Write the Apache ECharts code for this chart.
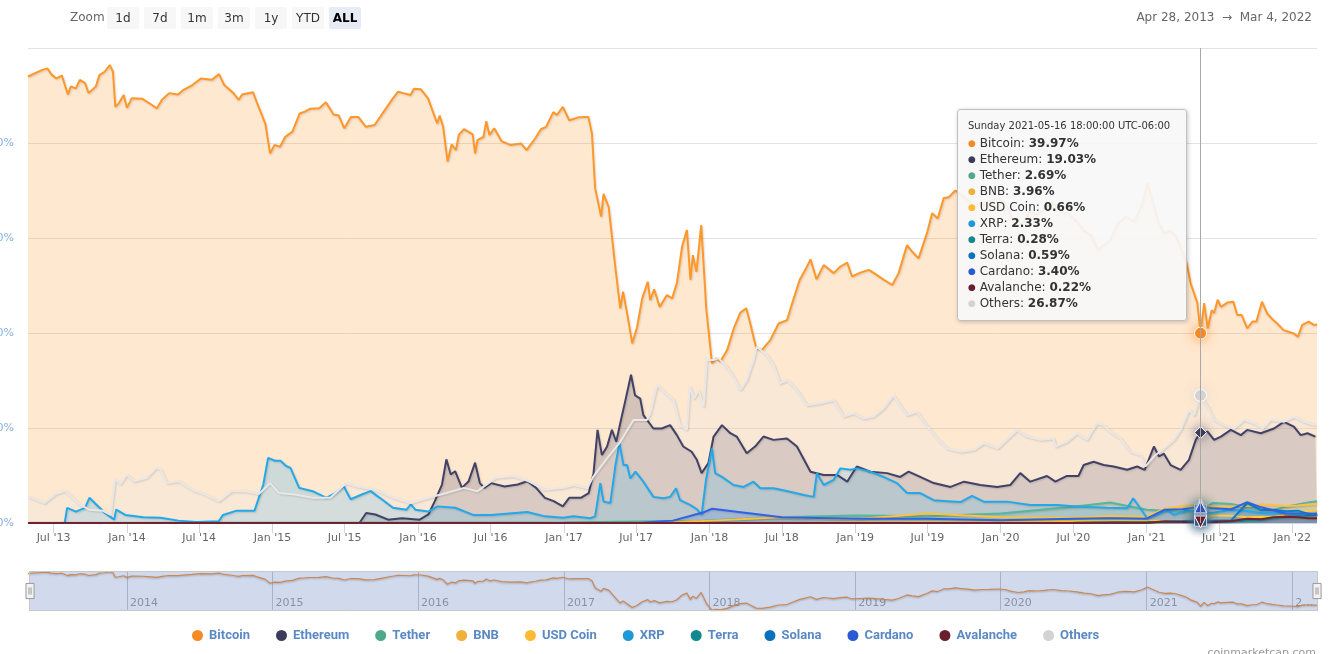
<!DOCTYPE html>
<html><head><meta charset="utf-8">
<script src="https://cdn.jsdelivr.net/npm/echarts@6/dist/echarts.min.js"></script>
<style>
html,body{margin:0;padding:0;background:#fff;}
#wrap{position:relative;width:1332px;height:654px;overflow:hidden;font-family:"DejaVu Sans",sans-serif;}
#chart{position:absolute;left:0;top:0;width:1332px;height:654px;}
.zoomlbl{position:absolute;left:70px;top:10px;font-size:12px;color:#666;z-index:5;}
.btn{position:absolute;top:7px;width:32px;height:22px;line-height:22px;text-align:center;font-size:12px;color:#333;background:#f7f7f7;border-radius:2px;z-index:5;}
.btn.sel{background:#e6ebf5;font-weight:bold;color:#000;}
#range{position:absolute;right:20px;top:10px;font-size:12px;color:#666;z-index:5;white-space:pre;}
#wm{position:absolute;right:16px;top:646px;font-size:11px;color:#999;z-index:5;}
</style></head>
<body>
<div id="wrap">
<div id="chart"></div>
<div class="zoomlbl">Zoom</div>
<div class="btn" style="left:107px">1d</div>
<div class="btn" style="left:144px">7d</div>
<div class="btn" style="left:181px">1m</div>
<div class="btn" style="left:218px">3m</div>
<div class="btn" style="left:255px">1y</div>
<div class="btn" style="left:292px">YTD</div>
<div class="btn sel" style="left:329px">ALL</div>
<div id="range">Apr 28, 2013  →  Mar 4, 2022</div>
<div id="wm">coinmarketcap.com</div>
</div>
<script>
// ---------------- DATA ----------------
const rangeStart = '2013-04-28';
const rangeEnd = '2022-03-04';
const tooltipDate = '2021-05-16';
const tooltipTitle = 'Sunday 2021-05-16 18:00:00 UTC-06:00';

const xTickDates = ['2013-07-01','2014-01-01','2014-07-01','2015-01-01','2015-07-01','2016-01-01','2016-07-01','2017-01-01','2017-07-01','2018-01-01','2018-07-01','2019-01-01','2019-07-01','2020-01-01','2020-07-01','2021-01-01','2021-07-01','2022-01-01'];
const xTickLabels = ["Jul '13","Jan '14","Jul '14","Jan '15","Jul '15","Jan '16","Jul '16","Jan '17","Jul '17","Jan '18","Jul '18","Jan '19","Jul '19","Jan '20","Jul '20","Jan '21","Jul '21","Jan '22"];
const navYearDates = ['2014-01-01','2015-01-01','2016-01-01','2017-01-01','2018-01-01','2019-01-01','2020-01-01','2021-01-01','2022-01-01'];
const navYearLabels = ['2014','2015','2016','2017','2018','2019','2020','2021','2…'];

const btcDates = ['2013-04-28','2013-06-03','2013-06-16','2013-06-25','2013-07-08','2013-07-22','2013-08-06','2013-08-13','2013-08-26','2013-09-05','2013-09-18','2013-09-27','2013-10-15','2013-10-24','2013-11-06','2013-11-19','2013-11-27','2013-12-03','2013-12-12','2013-12-24',
'2014-01-01','2014-01-13','2014-02-09','2014-03-03','2014-03-17','2014-03-30','2014-04-17','2014-05-09','2014-05-23','2014-06-14','2014-07-06','2014-08-02','2014-08-20','2014-09-02','2014-09-25','2014-10-08','2014-10-17','2014-11-13','2014-11-22','2014-12-14','2014-12-26',
'2015-01-06','2015-01-20','2015-02-02','2015-02-20','2015-03-10','2015-03-23','2015-04-05','2015-04-28','2015-05-15','2015-06-03','2015-06-16','2015-06-30','2015-07-17','2015-08-04','2015-08-23','2015-09-14','2015-10-07','2015-10-29','2015-11-12','2015-11-25','2015-12-13','2015-12-22',
'2016-01-08','2016-01-26','2016-02-18','2016-02-24','2016-03-04','2016-03-15','2016-03-25','2016-04-05','2016-04-12','2016-04-25','2016-05-17','2016-05-23','2016-05-29','2016-06-13','2016-06-20','2016-06-28','2016-07-10','2016-07-28','2016-08-19','2016-09-15','2016-09-29','2016-10-21','2016-11-04','2016-11-17','2016-12-05','2016-12-14','2016-12-29',
'2017-01-14','2017-02-06','2017-03-03','2017-03-12','2017-03-20','2017-04-04','2017-04-10','2017-04-23','2017-05-10','2017-05-22','2017-05-29','2017-06-10','2017-06-21','2017-07-03','2017-07-16','2017-07-30','2017-08-05','2017-08-15','2017-08-29','2017-09-16','2017-09-29','2017-10-11','2017-10-24','2017-11-05','2017-11-14','2017-11-20','2017-11-29','2017-12-11','2017-12-24',
'2018-01-07','2018-01-18','2018-01-28','2018-02-14','2018-03-04','2018-03-19','2018-04-03','2018-04-13','2018-04-28','2018-05-12','2018-06-02','2018-06-23','2018-07-14','2018-07-31','2018-08-15','2018-08-29','2018-09-11','2018-09-26','2018-10-14','2018-11-08','2018-11-25','2018-12-12','2018-12-24',
'2019-01-14','2019-02-04','2019-02-21','2019-03-14','2019-04-04','2019-04-20','2019-05-11','2019-05-24','2019-06-09','2019-07-01','2019-07-13','2019-07-27','2019-08-11','2019-08-24','2019-09-09','2019-09-25','2019-10-10','2019-10-28','2019-11-15','2019-12-05','2019-12-25',
'2020-01-12','2020-01-28','2020-02-14','2020-02-28','2020-03-13','2020-04-01','2020-04-20','2020-05-10','2020-06-01','2020-06-20','2020-07-10','2020-07-28','2020-08-15','2020-09-01','2020-09-15','2020-10-01','2020-10-20','2020-11-10','2020-12-01','2020-12-20',
'2021-01-03','2021-01-15','2021-02-01','2021-02-15','2021-03-01','2021-03-15','2021-04-01','2021-04-11','2021-04-21','2021-05-08','2021-05-16','2021-05-25','2021-06-03','2021-06-13','2021-06-19','2021-06-28','2021-07-06','2021-07-22','2021-08-06','2021-08-16','2021-08-27','2021-09-10','2021-09-23','2021-10-03','2021-10-17','2021-10-30','2021-11-11','2021-11-24','2021-12-10',
'2022-01-05','2022-01-15','2022-01-26','2022-02-11','2022-02-24','2022-03-04'];
const btcValues = [94.0,95.4,95.7,94.5,93.6,94.2,90.2,91.9,91.5,93.3,92.6,90.5,91.9,94.3,95.0,96.4,95.0,87.6,88.4,90.1,
87.4,89.4,89.3,88.1,87.3,89.1,90.5,90.2,91.2,92.2,93.6,93.3,94.5,92.2,90.5,89.1,90.2,90.7,88.7,84.1,77.8,
79.6,79.2,81.3,82.4,86.2,86.6,87.2,87.3,88.6,86.0,85.8,83.1,85.5,85.5,83.4,83.8,86.6,89.3,90.8,90.5,90.1,91.4,
91.3,89.4,84.1,85.8,83.4,76.1,79.7,78.5,81.7,82.9,81.8,77.8,80.6,81.3,84.6,81.7,83.1,80.4,79.6,79.9,78.5,81.0,82.9,83.4,86.5,85.9,87.6,
84.8,85.4,85.5,82.0,70.5,64.5,69.3,66.5,53.6,45.2,48.7,43.3,37.8,41.2,47.3,50.8,46.9,49.2,45.5,48.0,47.3,50.5,58.2,61.7,51.2,56.4,52.9,62.7,44.8,
33.6,34.7,34.0,36.4,41.3,44.3,45.2,42.0,36.8,36.4,38.5,42.0,42.7,47.3,51.2,53.3,55.5,51.3,54.3,52.6,54.0,54.8,51.9,
52.7,53.3,52.4,51.2,50.1,52.6,58.5,57.1,55.7,61.3,65.2,64.1,68.4,68.6,70.0,69.0,68.0,66.5,67.5,67.8,68.3,
67.5,64.5,62.5,63.5,65.5,65.0,66.0,67.5,65.5,65.0,63.5,61.5,60.5,57.5,58.5,59.5,63.0,64.5,63.5,67.0,
71.5,68.0,63.0,61.0,61.5,60.5,57.0,54.7,50.5,46.3,39.97,46.3,41.0,44.8,44.2,47.0,45.5,46.4,46.6,43.8,43.8,41.0,42.4,42.4,46.6,44.1,43.0,42.0,40.6,
39.9,39.2,41.7,42.4,41.7,41.8];

const ethDates = ['2015-08-07','2015-08-24','2015-09-16','2015-10-18','2015-11-22','2016-01-05','2016-01-27','2016-02-12','2016-03-01','2016-03-12','2016-03-23','2016-04-03','2016-04-20','2016-05-07','2016-05-23','2016-06-04','2016-06-15','2016-07-02','2016-08-05','2016-09-07','2016-10-01','2016-10-23','2016-11-14','2016-12-06','2016-12-29',
'2017-01-14','2017-02-12','2017-03-04','2017-03-16','2017-03-26','2017-04-06','2017-04-19','2017-05-01','2017-05-12','2017-05-22','2017-06-03','2017-06-18','2017-06-28','2017-07-11','2017-07-19','2017-08-13','2017-09-03','2017-09-24','2017-10-11','2017-10-27','2017-11-17','2017-11-30','2017-12-12','2017-12-29',
'2018-01-11','2018-02-01','2018-02-22','2018-03-10','2018-04-04','2018-04-25','2018-05-16','2018-06-10','2018-07-14','2018-08-08','2018-09-11','2018-10-14','2018-11-17','2018-12-12',
'2019-01-05','2019-02-08','2019-03-22','2019-04-24','2019-05-15','2019-06-13','2019-07-17','2019-08-28','2019-10-01','2019-11-11','2019-12-23',
'2020-01-25','2020-02-19','2020-03-15','2020-04-26','2020-05-17','2020-06-15','2020-07-14','2020-07-27','2020-08-21','2020-09-15','2020-10-10','2020-11-13','2020-12-08','2020-12-27',
'2021-01-19','2021-02-01','2021-02-13','2021-03-02','2021-03-27','2021-04-17','2021-05-04','2021-05-16','2021-06-03','2021-06-19','2021-07-06','2021-07-31','2021-08-25','2021-09-10','2021-10-14','2021-11-16','2021-12-11',
'2022-01-05','2022-01-22','2022-02-08','2022-02-28','2022-03-04'];
const ethValues = [0,2.1,1.8,0.7,1.0,0.7,1.8,4.6,8.1,13.4,10.2,10.9,7.4,8.8,12.7,8.4,7.4,8.4,7.7,8.1,8.8,7.4,5.3,4.6,3.5,
5.3,5.3,6.3,10.5,19.6,14.3,16.1,19.6,17.1,21.0,25.5,31.2,26.9,26.2,22.7,19.9,19.9,20.6,18.5,16.1,15.0,13.3,10.5,12.6,
18.2,20.6,18.9,18.2,14.7,16.1,18.2,17.5,17.8,16.1,10.8,10.1,10.1,8.7,
11.9,10.8,10.5,9.7,10.8,9.7,8.4,7.6,8.7,8.0,7.6,
8.0,10.5,8.7,9.9,8.7,9.9,9.9,12.2,12.9,12.2,11.9,11.2,11.9,11.2,
16.1,14.0,14.6,12.2,11.2,13.3,17.5,19.03,19.2,17.5,18.2,19.6,18.5,19.6,18.9,19.9,21.3,
20.3,18.5,18.9,18.2,18.2];

const othersDates = ['2013-04-28','2013-06-08','2013-07-06','2013-07-31','2013-08-31','2013-09-28','2013-11-01','2013-11-21','2013-12-02','2013-12-16',
'2014-01-01','2014-01-19','2014-02-20','2014-03-15','2014-03-26','2014-04-12','2014-05-10','2014-06-13','2014-07-16','2014-08-19','2014-09-21','2014-10-25','2014-11-28','2014-12-26',
'2015-01-18','2015-02-26','2015-04-12','2015-05-26','2015-07-05','2015-08-01','2015-09-16','2015-10-31','2015-12-14',
'2016-01-27','2016-03-12','2016-04-25','2016-05-29','2016-07-14','2016-08-28','2016-10-01','2016-11-14','2016-12-29',
'2017-01-25','2017-02-28','2017-03-15','2017-04-19','2017-05-22','2017-06-24','2017-07-28','2017-08-05','2017-08-22','2017-09-12','2017-10-03','2017-10-19','2017-11-05','2017-11-12','2017-11-23','2017-12-04','2017-12-17','2017-12-25',
'2018-01-11','2018-01-23','2018-02-13','2018-03-02','2018-03-19','2018-04-04','2018-04-21','2018-04-29','2018-05-24','2018-06-10','2018-06-27','2018-07-14','2018-08-08','2018-09-02','2018-10-05','2018-11-08','2018-12-03','2018-12-28',
'2019-01-22','2019-02-16','2019-03-13','2019-04-07','2019-05-11','2019-06-05','2019-07-01','2019-07-26','2019-08-20','2019-09-22','2019-10-26','2019-11-20','2019-12-24',
'2020-02-11','2020-03-07','2020-04-09','2020-05-13','2020-05-17','2020-06-15','2020-07-10','2020-08-04','2020-08-29','2020-09-15','2020-10-02','2020-10-27','2020-11-21','2020-12-16','2020-12-29',
'2021-01-19','2021-02-13','2021-03-10','2021-03-27','2021-04-17','2021-04-30','2021-05-16','2021-06-03','2021-06-19','2021-07-14','2021-08-08','2021-09-02','2021-09-27','2021-10-18','2021-11-08','2021-12-11',
'2022-01-05','2022-01-30','2022-02-28','2022-03-04'];
const othersValues = [5.6,4.2,6.1,6.8,4.2,2.8,2.6,1.7,9.2,8.2,
10.2,8.8,9.5,11.6,11.3,8.4,8.8,7.0,6.0,4.6,6.7,6.7,6.1,8.4,
6.3,6.0,5.3,5.3,8.4,7.7,7.0,5.3,4.2,
5.3,6.3,7.4,6.7,9.5,9.9,8.9,7.0,7.4,
8.0,7.3,9.7,13.6,17.1,21.7,21.7,23.1,29.1,27.3,25.9,20.6,19.6,28.7,26.2,28.0,24.5,34.3,
34.3,34.7,32.9,30.8,28.0,30.1,34.3,37.1,35.4,33.3,29.4,30.1,28.0,24.8,25.2,25.9,22.4,23.1,
22.0,22.4,24.1,26.9,22.7,23.4,20.3,17.8,15.7,15.0,15.4,16.8,15.7,
19.6,18.2,17.5,17.8,16.1,17.1,18.9,17.5,21.0,20.6,19.2,17.8,15.0,14.3,11.9,
14.0,15.7,17.5,19.6,23.8,22.7,26.87,24.5,21.7,20.6,19.9,21.7,21.0,19.9,21.7,21.3,
22.4,21.3,20.6,20.6];

const xrpDates = ['2013-07-29','2013-08-04','2013-08-26','2013-09-18','2013-09-29','2013-10-16','2013-11-07','2013-11-30','2013-12-05','2013-12-28',
'2014-02-11','2014-03-26','2014-05-10','2014-06-24','2014-08-19','2014-08-30','2014-10-03','2014-11-17','2014-12-09','2014-12-21',
'2015-01-07','2015-01-21','2015-02-04','2015-02-15','2015-03-09','2015-04-12','2015-05-16','2015-06-07','2015-06-29','2015-07-16','2015-08-13','2015-09-04','2015-09-27','2015-10-30','2015-12-03','2015-12-14','2015-12-25',
'2016-01-27','2016-02-19','2016-04-03','2016-05-18','2016-07-02','2016-10-01','2016-11-14','2016-12-29',
'2017-01-25','2017-03-08','2017-03-20','2017-04-02','2017-04-10','2017-04-27','2017-05-10','2017-05-20','2017-05-30','2017-06-08','2017-06-16','2017-06-29','2017-07-19','2017-08-13','2017-09-07','2017-09-24','2017-10-09','2017-10-19','2017-11-13','2017-11-30','2017-12-12','2017-12-23',
'2018-01-07','2018-01-15','2018-02-01','2018-03-02','2018-03-27','2018-04-21','2018-05-08','2018-06-10','2018-07-05','2018-08-04','2018-08-25','2018-09-19','2018-09-27','2018-10-14','2018-11-08','2018-11-25','2018-12-20',
'2019-01-05','2019-02-08','2019-03-13','2019-04-16','2019-05-11','2019-06-13','2019-07-17','2019-08-20','2019-09-22','2019-10-21','2019-11-19',
'2020-01-17','2020-03-15','2020-05-21','2020-07-18','2020-09-23','2020-11-13','2020-11-28','2020-12-16',
'2021-01-02','2021-01-27','2021-02-21','2021-03-10','2021-04-13','2021-05-16','2021-06-13','2021-07-25','2021-08-27','2021-10-16','2021-12-05',
'2022-01-24','2022-03-04'];
const xrpValues = [0,3.2,2.4,3.2,5.3,3.9,2.1,0.7,2.8,1.7,
1.2,1.1,0.5,0.2,0.35,1.7,2.6,2.6,8.1,13.7,
13.1,13.1,12.0,11.6,7.4,6.7,5.3,6.3,7.7,5.0,6.0,6.7,5.3,3.2,2.8,3.9,2.8,
2.4,3.5,3.2,1.7,1.7,2.3,1.4,1.1,
1.4,1.0,1.4,8.4,4.5,4.2,12.2,16.8,12.2,12.2,9.4,10.8,8.7,5.5,5.2,5.5,7.3,4.8,3.8,2.9,1.7,9.1,
15.7,10.5,9.7,8.0,7.6,8.7,7.3,7.3,6.9,6.3,5.9,5.5,10.5,8.0,9.1,11.5,11.2,
11.5,10.8,9.7,8.4,6.3,6.3,4.8,4.6,4.4,5.7,4.5,
4.5,3.8,3.8,3.4,3.2,3.1,5.2,3.1,
1.0,1.7,2.7,1.7,2.7,2.33,2.1,2.7,2.7,2.1,2.0,
2.0,1.7];

const minorDates = ['2013-04-28','2015-01-01','2017-01-01','2017-07-01','2017-10-01','2017-12-15','2018-01-07','2018-07-01','2019-01-01','2019-07-01','2020-01-01','2020-07-01','2020-10-01','2021-01-01','2021-02-15','2021-04-01','2021-05-16','2021-06-15','2021-08-01','2021-09-10','2021-10-15','2021-11-15','2021-12-15','2022-01-15','2022-02-10','2022-03-04'];
const tetherValues    = [0,0.05,0.1,0.3,0.4,0.5,0.6,1.2,1.6,1.4,2.0,3.4,4.3,2.8,2.6,2.3,2.69,4.2,4.0,3.3,2.8,2.8,3.4,3.9,4.3,4.6];
const bnbValues       = [0,0,0,0.05,0.2,0.4,0.5,1.2,0.8,2.0,1.2,1.1,1.5,1.3,3.0,3.6,3.96,3.4,3.5,3.6,3.9,3.8,3.6,3.7,3.9,4.0];
const usdcValues      = [0,0,0,0,0,0,0,0,0.1,0.15,0.2,0.4,0.7,0.5,0.5,0.5,0.66,1.6,1.5,1.2,1.3,1.2,1.8,2.3,2.5,2.7];
const terraValues     = [0,0,0,0,0,0,0,0,0,0,0,0.05,0.1,0.1,0.25,0.3,0.28,0.2,0.3,0.5,0.6,1.0,1.3,1.5,1.5,1.9];
const solanaValues    = [0,0,0,0,0,0,0,0,0,0,0,0.01,0.05,0.1,0.3,0.4,0.59,0.5,0.6,4.2,2.7,2.8,2.5,2.6,1.9,2.0];
const cardanoValues   = [0,0,0,0,0.5,2.2,3.0,1.2,0.9,0.9,0.6,0.9,1.0,0.9,2.8,2.9,3.40,3.1,2.9,4.4,3.3,2.7,2.0,2.0,2.0,1.8];
const avalancheValues = [0,0,0,0,0,0,0,0,0,0,0,0,0.05,0.05,0.3,0.2,0.22,0.2,0.4,0.9,0.8,1.2,1.3,1.2,1.0,1.0];

const seriesNames  = ['Bitcoin','Ethereum','Tether','BNB','USD Coin','XRP','Terra','Solana','Cardano','Avalanche','Others'];
const seriesColors = ['#f58a26','#3c3c5d','#4ea88c','#f0b13a','#fdbb35','#1f9ad6','#12898f','#0a72bd','#2a5ad3','#6a1f2e','#d3d3d3'];
const seriesDates  = [btcDates, ethDates, minorDates, minorDates, minorDates, xrpDates, minorDates, minorDates, minorDates, minorDates, othersDates];
const seriesValues = [btcValues, ethValues, tetherValues, bnbValues, usdcValues, xrpValues, terraValues, solanaValues, cardanoValues, avalancheValues, othersValues];

// ---------------- CHART ----------------
function ts(s){const p=s.split('-').map(Number);return Date.UTC(p[0],p[1]-1,p[2]);}
function pairs(d,v){return d.map((x,i)=>[ts(x),v[i]]);}
function alpha(hex,a){const n=parseInt(hex.slice(1),16);return 'rgba('+(n>>16)+','+((n>>8)&255)+','+(n&255)+','+a+')';}
const triDown = 'path://M0,0 L10,0 L5,10 Z';
const symbolCycle = ['circle','diamond','rect','triangle',triDown];
const xTickTs = xTickDates.map(ts);
const navTs = navYearDates.map(ts);
const DAY = 86400000;

const chart = echarts.init(document.getElementById('chart'), null, {renderer:'canvas'});
const FONT = '"DejaVu Sans", sans-serif';

const series = seriesNames.map((name,i)=>({
  type:'line', name, xAxisIndex:0, yAxisIndex:0,
  data: pairs(seriesDates[i], seriesValues[i]),
  showSymbol:false, symbol: symbolCycle[i%5], symbolSize: 12,
  lineStyle:{width:2, color:seriesColors[i], shadowColor:'rgba(0,0,0,0.15)', shadowBlur:2, shadowOffsetX:1, shadowOffsetY:1},
  itemStyle:{color:seriesColors[i], borderColor:'#fff', borderWidth:1},
  areaStyle:{color:seriesColors[i], opacity:0.22},
  emphasis:{scale:false, focus:'none', lineStyle:{width:2}, areaStyle:{opacity:0.22}, itemStyle:{borderColor:'#fff', borderWidth:1, shadowBlur:12, shadowColor:alpha(seriesColors[i],0.8)}},
  animation:false
}));
series.push({
  type:'line', name:'navigator', xAxisIndex:1, yAxisIndex:1,
  data: pairs(btcDates, btcValues), showSymbol:false, silent:true,
  lineStyle:{width:1.2, color:'#f58a26', shadowColor:'rgba(0,0,0,0.3)', shadowBlur:2, shadowOffsetY:1},
  itemStyle:{color:'#f58a26'}, tooltip:{show:false}, animation:false, emphasis:{disabled:true}
});

function lookup(arr, labels){
  return (v)=>{const i=arr.findIndex(t=>Math.abs(t-v)<DAY);return i>=0?labels[i]:'';};
}

chart.setOption({
  animation:false,
  textStyle:{fontFamily:FONT},
  grid:[
    {left:28, right:15, top:48, bottom:131, containLabel:false, outerBoundsMode:'none'},
    {left:28, right:15, top:571, height:40, containLabel:false, outerBoundsMode:'none'}
  ],
  xAxis:[
    {type:'value', gridIndex:0, min:ts(rangeStart), max:ts(rangeEnd), scale:true,
     axisLine:{show:true, lineStyle:{color:'#ccd6eb'}},
     axisTick:{show:true, customValues:xTickTs, length:10, lineStyle:{color:'#ccd6eb'}},
     axisLabel:{customValues:xTickTs, color:'#666', fontSize:11, margin:10, fontFamily:FONT,
       formatter:lookup(xTickTs, xTickLabels)},
     splitLine:{show:false}},
    {type:'value', gridIndex:1, min:ts(rangeStart), max:ts(rangeEnd), scale:true,
     axisLine:{show:false},
     axisTick:{show:false, customValues:navTs},
     axisLabel:{customValues:navTs, inside:true, align:'left', padding:[0,0,0,3], margin:2, color:'#999', fontSize:11, fontFamily:FONT,
       formatter:lookup(navTs, navYearLabels)},
     splitLine:{show:true, lineStyle:{color:'#c4c6d0', width:1}}}
  ],
  yAxis:[
    {type:'value', gridIndex:0, min:0, max:100, interval:20,
     axisLine:{show:false}, axisTick:{show:false},
     axisLabel:{formatter:'{value}%', color:'#86afe2', fontSize:11, margin:14, showMaxLabel:false, fontFamily:FONT},
     splitLine:{lineStyle:{color:'#e3e3e3'}}},
    {type:'value', gridIndex:1, show:false, min:(e)=>e.min-1.5, max:(e)=>e.max+1.5}
  ],
  dataZoom:[{
    type:'slider', xAxisIndex:0, start:0, end:100, filterMode:'none',
    left:28, right:15, top:571, height:40,
    showDataShadow:false, showDetail:false, brushSelect:false, realtime:false,
    fillerColor:'rgba(102,133,194,0.3)', borderColor:'#c8c8c8', borderRadius:0, backgroundColor:'rgba(0,0,0,0)',
    handleIcon:'path://M0,0 L8,0 L8,15 L0,15 Z M3,4 L3,11 M5,4 L5,11',
    handleSize:'38%', handleStyle:{color:'#f2f2f2', borderColor:'#999', borderWidth:1},
    moveHandleSize:0, moveHandleStyle:{opacity:0},
    emphasis:{handleStyle:{color:'#f2f2f2', borderColor:'#999'}, moveHandleStyle:{opacity:0}},
    z:10
  }],
  legend:{
    data:seriesNames, top:623, left:185, icon:'circle', itemWidth:13, itemHeight:13, itemGap:24,
    textStyle:{color:'#5a89c4', fontSize:13, fontWeight:'bold', fontFamily:'Roboto, sans-serif'}
  },
  tooltip:{
    trigger:'axis', triggerOn:'none', alwaysShowContent:true,
    position:[957,109],
    backgroundColor:'rgba(247,247,247,0.92)', borderColor:'#c0c0c0', borderWidth:1,
    padding:[9,10,9,10],
    extraCssText:'box-shadow:1px 1px 4px rgba(0,0,0,0.22);border-radius:3px;width:208px;',
    textStyle:{fontFamily:FONT, color:'#333', fontSize:12},
    axisPointer:{type:'line', snap:true, lineStyle:{color:'#a8a8a8', width:1, type:'solid'}, label:{show:false}},
    formatter:(params)=>{
      let h = '<div style="font-size:10px;line-height:14px;color:#333;margin-bottom:2px;font-family:DejaVu Sans">'+tooltipTitle+'</div>';
      params.forEach(p=>{
        h += '<div style="font-size:12px;line-height:16px;color:#333;font-family:DejaVu Sans"><span style="color:'+p.color+';font-size:9px;vertical-align:1px">●</span> '+p.seriesName+': <b>'+p.value[1].toFixed(2)+'%</b></div>';
      });
      return h;
    }
  },
  series
});

function showTip(){
  const px = chart.convertToPixel({xAxisIndex:0, yAxisIndex:0}, [ts(tooltipDate), 50]);
  chart.dispatchAction({type:'showTip', x:px[0], y:px[1]});
}
showTip();
setTimeout(showTip, 50);
</script>
</body></html>
